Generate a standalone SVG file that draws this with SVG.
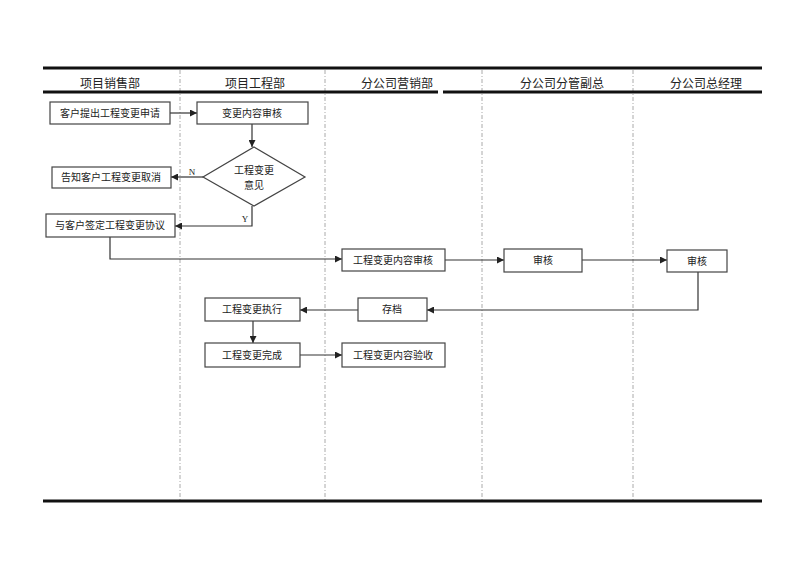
<svg xmlns="http://www.w3.org/2000/svg" width="800" height="566" viewBox="0 0 800 566">
<defs>
<marker id="ah" viewBox="0 0 10 10" refX="10" refY="5" markerWidth="7" markerHeight="7" markerUnits="userSpaceOnUse" orient="auto">
<path d="M0,0 L10,5 L0,10 z" fill="#222"/>
</marker>
<style>
.rule{stroke:#111;stroke-width:3;fill:none}
.lane{stroke:#aaa;stroke-width:1;stroke-dasharray:4,2,1,2;fill:none}
.box{fill:#fff;stroke:#444;stroke-width:1.2}
.t{font-family:"Liberation Serif","Noto Sans CJK SC",serif;font-size:10px;fill:#222;text-anchor:middle;dominant-baseline:central}
.h{font-family:"Liberation Serif","Noto Sans CJK SC",serif;font-size:12px;fill:#222;text-anchor:middle;dominant-baseline:central}
.c{stroke:#333;stroke-width:1.2;fill:none}
.ca{stroke:#333;stroke-width:1.2;fill:none;marker-end:url(#ah)}
</style>
</defs>
<rect width="800" height="566" fill="#fff"/>
<g id="frame">
<line class="lane" x1="180" y1="70" x2="180" y2="500"/>
<line class="lane" x1="325" y1="70" x2="325" y2="500"/>
<line class="lane" x1="482" y1="70" x2="482" y2="500"/>
<line class="lane" x1="633" y1="70" x2="633" y2="500"/>
<line class="rule" x1="43" y1="68" x2="762" y2="68"/>
<line class="rule" x1="43" y1="92" x2="438" y2="92"/>
<line class="rule" x1="443" y1="92" x2="762" y2="92"/>
<line class="rule" x1="43" y1="501" x2="762" y2="501"/>
<text class="h" x="110" y="84">项目销售部</text>
<text class="h" x="255" y="84">项目工程部</text>
<text class="h" x="397" y="84">分公司营销部</text>
<text class="h" x="562" y="84">分公司分管副总</text>
<text class="h" x="706" y="84">分公司总经理</text>
</g>
<g id="connectors">
<line class="ca" x1="170" y1="113" x2="197" y2="113"/>
<line class="ca" x1="252" y1="124" x2="252" y2="147"/>
<line class="ca" x1="203" y1="177" x2="171" y2="177"/>
<polyline class="ca" points="252,206 252,226 175,226"/>
<polyline class="ca" points="110,237 110,259 342,259"/>
<line class="ca" x1="445" y1="260" x2="504" y2="260"/>
<line class="ca" x1="582" y1="260" x2="667" y2="260"/>
<polyline class="ca" points="698,272 698,310 427,310"/>
<line class="ca" x1="358" y1="310" x2="300" y2="310"/>
<line class="ca" x1="253" y1="321" x2="253" y2="343"/>
<line class="ca" x1="300" y1="355" x2="342" y2="355"/>
<text class="t" x="192" y="172" style="font-size:9px">N</text>
<text class="t" x="245" y="219" style="font-size:9px">Y</text>
</g>
<g id="n1"><rect class="box" x="50" y="102" width="120" height="22"/><text class="t" x="110" y="113">客户提出工程变更申请</text></g>
<g id="n2"><rect class="box" x="197" y="102" width="111" height="22"/><text class="t" x="252" y="113">变更内容审核</text></g>
<g id="n3"><polygon class="box" points="254,147 305,177 254,206 203,177"/><text class="t" x="254" y="170">工程变更</text><text class="t" x="254" y="185">意见</text></g>
<g id="n4"><rect class="box" x="52" y="167" width="119" height="21"/><text class="t" x="111" y="177.5">告知客户工程变更取消</text></g>
<g id="n5"><rect class="box" x="46" y="214" width="129" height="23"/><text class="t" x="110" y="225.5">与客户签定工程变更协议</text></g>
<g id="n6"><rect class="box" x="342" y="249" width="103" height="22"/><text class="t" x="393" y="260">工程变更内容审核</text></g>
<g id="n7"><rect class="box" x="504" y="249" width="78" height="23"/><text class="t" x="543" y="260.5">审核</text></g>
<g id="n8"><rect class="box" x="667" y="250" width="60" height="22"/><text class="t" x="697" y="261">审核</text></g>
<g id="n9"><rect class="box" x="358" y="298" width="69" height="23"/><text class="t" x="392" y="309.5">存档</text></g>
<g id="n10"><rect class="box" x="205" y="298" width="95" height="23"/><text class="t" x="252" y="309.5">工程变更执行</text></g>
<g id="n11"><rect class="box" x="205" y="343" width="95" height="24"/><text class="t" x="252" y="355">工程变更完成</text></g>
<g id="n12"><rect class="box" x="342" y="343" width="103" height="24"/><text class="t" x="393" y="355">工程变更内容验收</text></g>
</svg>
